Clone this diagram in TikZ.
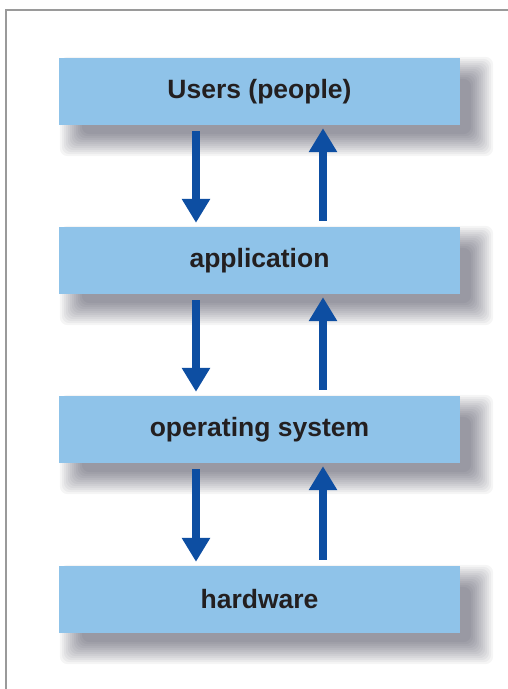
\documentclass[tikz,border=0pt]{standalone}
\usepackage{fontspec}
\setmainfont{Liberation Sans}
\usetikzlibrary{arrows.meta,backgrounds}
\definecolor{boxblue}{HTML}{8FC3E9}
\definecolor{arrowblue}{HTML}{0D4EA2}
\definecolor{framegray}{HTML}{9A9A9A}
\definecolor{txt}{HTML}{231F20}
\begin{document}
\begin{tikzpicture}[x=1pt,y=-1pt,
  layerbox/.style={fill=boxblue, minimum width=401pt, minimum height=67pt, inner sep=0pt,
    text=txt, font=\bfseries\fontsize{26.5}{30}\selectfont},
  flow/.style={draw=arrowblue, line width=8pt, -{Triangle[width=27pt,length=24pt]}, arrowblue},
  softshade/.style={fill=black!90!blue, opacity=0.038}
]
\useasboundingbox (0,0) rectangle (507,689);
\draw[framegray, line width=2pt] (6,700) -- (6,10) -- (520,10);
\node[layerbox] (u) at (259.5,91.5) {Users (people)};
\node[layerbox] (a) at (259.5,260.5) {application};
\node[layerbox] (o) at (259.5,429.5) {operating system};
\node[layerbox] (h) at (259.5,599.5) {hardware};
\begin{scope}[on background layer]
  \fill[white] (0,0) rectangle (507,689);
  \foreach \n in {u,a,o,h}{
    \foreach \d in {16,14,12,10,8,6,4,2,0,-2,-4,-6}{
      \fill[softshade, rounded corners=8pt]
        ([xshift=17pt-\d pt,yshift=-15pt-\d pt]\n.south west) rectangle
        ([xshift=17pt+\d pt,yshift=-15pt+\d pt]\n.north east);
    }
  }
\end{scope}
\foreach \p/\q in {u/a, a/o, o/h}{
  \draw[flow] ([xshift=-63.5pt,yshift=-6pt]\p.south) -- ([xshift=-63.5pt,yshift=4pt]\q.north);
  \draw[flow] ([xshift=63.5pt,yshift=6pt]\q.north) -- ([xshift=63.5pt,yshift=-3pt]\p.south);
}
\end{tikzpicture}
\end{document}
